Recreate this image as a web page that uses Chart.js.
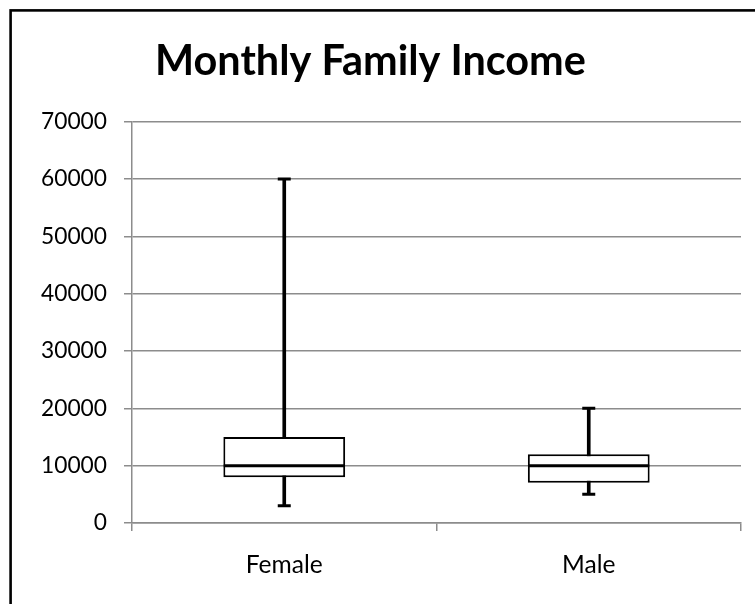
<!DOCTYPE html>
<html>
<head>
<meta charset="utf-8">
<script src="https://cdn.jsdelivr.net/npm/chart.js@4.4.1/dist/chart.umd.min.js"></script>
<style>
  html, body { margin: 0; padding: 0; background: #fff; }
  #wrap { width: 755px; height: 604px; position: relative; }
</style>
</head>
<body>
<div id="wrap"><canvas id="c" width="755" height="604"></canvas></div>
<script>
// ---- Data ----
const chartTitle = 'Monthly Family Income';
const categories = ['Female', 'Male'];
const minValues = [3000, 5000];
const q1Values = [8000, 7000];
const medianValues = [10000, 10000];
const q3Values = [15000, 12000];
const maxValues = [60000, 20000];
const yMin = 0;
const yMax = 70000;
const yStep = 10000;

// ---- Font sizing helpers ----
const FAMILY = 'Lato, "Open Sans", sans-serif';
function fitSize(text, weight, target) {
  const ctx = document.createElement('canvas').getContext('2d');
  ctx.font = weight + ' 100px ' + FAMILY;
  return 100 * target / ctx.measureText(text).width;
}
const titleSize = fitSize(chartTitle, 'bold', 431);
const yTickSize = fitSize('70000', 'normal', 66);
const xTickSize = fitSize('Female', 'normal', 77);

const GRID = '#8c8c8c';

const backgroundAndBorder = {
  id: 'bgBorder',
  beforeDraw(chart) {
    const ctx = chart.ctx;
    ctx.save();
    ctx.fillStyle = '#ffffff';
    ctx.fillRect(0, 0, chart.width, chart.height);
    ctx.restore();
  },
  afterDraw(chart) {
    const ctx = chart.ctx;
    ctx.save();
    ctx.strokeStyle = '#000';
    ctx.lineWidth = 2.6;
    ctx.strokeRect(10.6, 10.4, chart.width + 40, chart.height + 40);
    ctx.restore();
  }
};

new Chart(document.getElementById('c'), {
  data: {
    labels: categories,
    datasets: [
      {
        type: 'bar',
        label: 'whisker',
        data: categories.map((_, i) => [minValues[i], maxValues[i]]),
        backgroundColor: '#000',
        borderWidth: 0,
        barThickness: 3,
        grouped: false,
        order: 3
      },
      {
        type: 'bar',
        label: 'box',
        data: categories.map((_, i) => [q1Values[i], q3Values[i]]),
        backgroundColor: '#fff',
        borderColor: '#000',
        borderWidth: 2,
        borderSkipped: false,
        barPercentage: 0.4,
        categoryPercentage: 1,
        grouped: false,
        order: 2
      },
      {
        type: 'line',
        label: 'median',
        data: medianValues,
        showLine: false,
        pointStyle: 'line',
        pointRadius: 60.5,
        pointBorderWidth: 3,
        pointBorderColor: '#000',
        order: 1
      },
      {
        type: 'line',
        label: 'min',
        data: minValues,
        showLine: false,
        pointStyle: 'line',
        pointRadius: 6.5,
        pointBorderWidth: 3,
        pointBorderColor: '#000',
        order: 1
      },
      {
        type: 'line',
        label: 'max',
        data: maxValues,
        showLine: false,
        pointStyle: 'line',
        pointRadius: 6.5,
        pointBorderWidth: 3,
        pointBorderColor: '#000',
        order: 1
      }
    ]
  },
  options: {
    responsive: false,
    animation: false,
    events: [],
    layout: { autoPadding: false, padding: { left: 0, right: 14, top: 0, bottom: 0 } },
    plugins: {
      legend: { display: false },
      tooltip: { enabled: false },
      title: {
        display: true,
        text: chartTitle,
        color: '#000',
        font: { family: FAMILY, weight: 'bold', size: titleSize, lineHeight: 1.2 },
        padding: { top: 37, bottom: 35 }
      }
    },
    scales: {
      x: {
        type: 'category',
        offset: true,
        grid: {
          display: true,
          offset: true,
          drawOnChartArea: false,
          drawTicks: true,
          tickLength: 8,
          color: GRID,
          lineWidth: 1.5
        },
        border: { display: true, color: GRID, width: 1.5 },
        ticks: {
          color: '#000',
          font: { family: FAMILY, size: xTickSize },
          padding: 19
        },
        afterFit(scale) { scale.height = 81; }
      },
      y: {
        type: 'linear',
        min: yMin,
        max: yMax,
        grid: {
          color: GRID,
          lineWidth: 1.5,
          drawTicks: true,
          tickLength: 8
        },
        border: { display: true, color: GRID, width: 1.5 },
        ticks: {
          stepSize: yStep,
          color: '#000',
          font: { family: FAMILY, size: yTickSize },
          padding: 17,
          callback: (v) => String(v)
        },
        afterFit(scale) { scale.width = 132; }
      }
    }
  },
  plugins: [backgroundAndBorder]
});
</script>
</body>
</html>
